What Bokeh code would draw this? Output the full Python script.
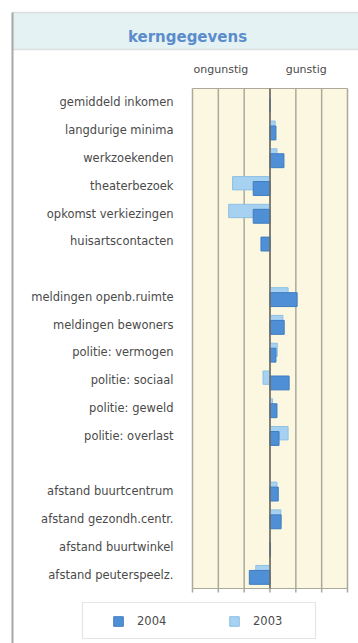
from bokeh.plotting import figure
from bokeh.models import (Range1d, Legend, LegendItem, ColumnDataSource, BoxAnnotation, Label)
from bokeh.core.properties import value
from bokeh.embed import file_html
from bokeh.resources import INLINE

title_text = "kerngegevens"
categories = ["gemiddeld inkomen", "langdurige minima", "werkzoekenden", "theaterbezoek",
              "opkomst verkiezingen", "huisartscontacten",
              "meldingen openb.ruimte", "meldingen bewoners", "politie: vermogen",
              "politie: sociaal", "politie: geweld", "politie: overlast",
              "afstand buurtcentrum", "afstand gezondh.centr.", "afstand buurtwinkel",
              "afstand peuterspeelz."]
row_positions = [0, 1, 2, 3, 4, 5, 7, 8, 9, 10, 11, 12, 14, 15, 16, 17]
values_2004 = [0, 0.23, 0.54, -0.65, -0.65, -0.35, 1.05, 0.55, 0.23, 0.74, 0.27, 0.35,
               0.32, 0.43, 0.02, -0.8]
values_2003 = [0, 0.2, 0.27, -1.45, -1.6, 0, 0.7, 0.5, 0.28, -0.27, 0.1, 0.7,
               0.27, 0.42, 0, -0.55]
series_names = ["2004", "2003"]
x_ticks = [-3, -2, -1, 0, 1, 2, 3]
side_label_pos = [-1.9, 1.4]
side_label_text = ["ongunstig", "gunstig"]

FONT = "DejaVu Sans"
DARK = "#4f8fd6"
DARK_LINE = "#3f7dc0"
LIGHT = "#a6d1f0"
LIGHT_LINE = "#8ec0e4"
BORDER = "#a8a8a8"
GRID = "#aaa99c"
CREAM = "#fcf7e0"
TEXT = "#4a4a4a"

# ---- layout (pixels of the 358x643 canvas) ----
W, H = 358, 643
FL, FR, FT, FB = 192, 347, 88, 588          # plot area
XMIN, XMAX = x_ticks[0], x_ticks[-1]
ROW_TOP, ROW_BOT = -0.5, 17.5
px_x = (FR - FL) / (XMAX - XMIN)
px_y = (FB - FT) / (ROW_BOT - ROW_TOP)

p = figure(width=W, height=H, output_backend="svg", toolbar_location=None,
           x_range=Range1d(XMIN - FL / px_x, XMAX + (W - FR) / px_x),
           y_range=Range1d(ROW_BOT + (H - FB) / px_y, ROW_TOP - FT / px_y),
           x_axis_location=None, y_axis_location=None, min_border=0)
p.extra_x_ranges = {"px": Range1d(0, W)}
p.extra_y_ranges = {"px": Range1d(H, 0)}
p.grid.visible = False
p.outline_line_color = None
p.background_fill_color = "white"
p.border_fill_color = "white"

# header band, left border, title
p.add_layout(BoxAnnotation(left=12, right=W + 5, top=12, bottom=49,
                           x_range_name="px", y_range_name="px",
                           fill_color="#e5f2f3", fill_alpha=1,
                           line_color=BORDER, line_width=1.5, level="underlay"))
p.add_layout(BoxAnnotation(left=11, right=13, top=12, bottom=H + 5,
                           x_range_name="px", y_range_name="px",
                           fill_color=BORDER, fill_alpha=1, line_color=None,
                           level="underlay"))
p.add_layout(Label(x=187, y=36, x_range_name="px", y_range_name="px", text=title_text,
                   text_align="center", text_baseline="middle", text_font=FONT,
                   text_font_style="bold", text_font_size="15px", text_color="#5b8ccb"))

# plot area background
p.add_layout(BoxAnnotation(left=XMIN, right=XMAX, top=ROW_TOP, bottom=ROW_BOT,
                           fill_color=CREAM, fill_alpha=1, line_color=None,
                           level="underlay"))

# vertical grid lines, bottom ticks, top/bottom lines
tick_len = 4 / px_y
p.segment(x0=x_ticks, x1=x_ticks, y0=[ROW_TOP] * len(x_ticks),
          y1=[ROW_BOT + tick_len] * len(x_ticks), line_color=GRID, line_width=1.5)
p.segment(x0=[XMIN, XMIN], x1=[XMAX, XMAX], y0=[ROW_TOP, ROW_BOT], y1=[ROW_TOP, ROW_BOT],
          line_color=GRID, line_width=1.2)

# bars
src3 = ColumnDataSource(dict(y=[r - 0.09 for r in row_positions], v=values_2003))
src4 = ColumnDataSource(dict(y=[r + 0.10 for r in row_positions], v=values_2004))
r3 = p.hbar(y="y", left=0, right="v", height=0.48, source=src3,
            fill_color=LIGHT, line_color=LIGHT_LINE, line_width=1)
r4 = p.hbar(y="y", left=0, right="v", height=0.5, source=src4,
            fill_color=DARK, line_color=DARK_LINE, line_width=1)

# zero line
p.segment(x0=[0], x1=[0], y0=[ROW_TOP], y1=[ROW_BOT], line_color="#6e6a60", line_width=1.5)

# category labels
p.text(x=[XMIN] * len(categories), y=row_positions, text=categories, x_offset=-19,
       text_align="right", text_baseline="middle", text_font=value(FONT),
       text_font_size=value("11.5px"), text_color=TEXT)

# ongunstig / gunstig
p.text(x=side_label_pos, y=[ROW_TOP] * 2, text=side_label_text, y_offset=-19,
       text_align="center", text_baseline="middle", text_font=value(FONT),
       text_font_size=value("11px"), text_color=TEXT)

# legend box + legend
p.add_layout(BoxAnnotation(left=82, right=315, top=602, bottom=638,
                           x_range_name="px", y_range_name="px",
                           fill_color="white", fill_alpha=1,
                           line_color=BORDER, line_width=1.2))
legend = Legend(items=[LegendItem(label=series_names[0], renderers=[r4]),
                       LegendItem(label=series_names[1], renderers=[r3])],
                orientation="horizontal", location=(112, 12),
                label_text_font=FONT, label_text_font_size="11.5px",
                label_text_color=TEXT, glyph_width=12, glyph_height=12,
                label_standoff=13, label_width=40, label_height=20, spacing=51,
                padding=0, margin=0, border_line_color=None,
                background_fill_alpha=0)
p.add_layout(legend, "center")

open("out.html", "w").write(file_html(p, INLINE))
